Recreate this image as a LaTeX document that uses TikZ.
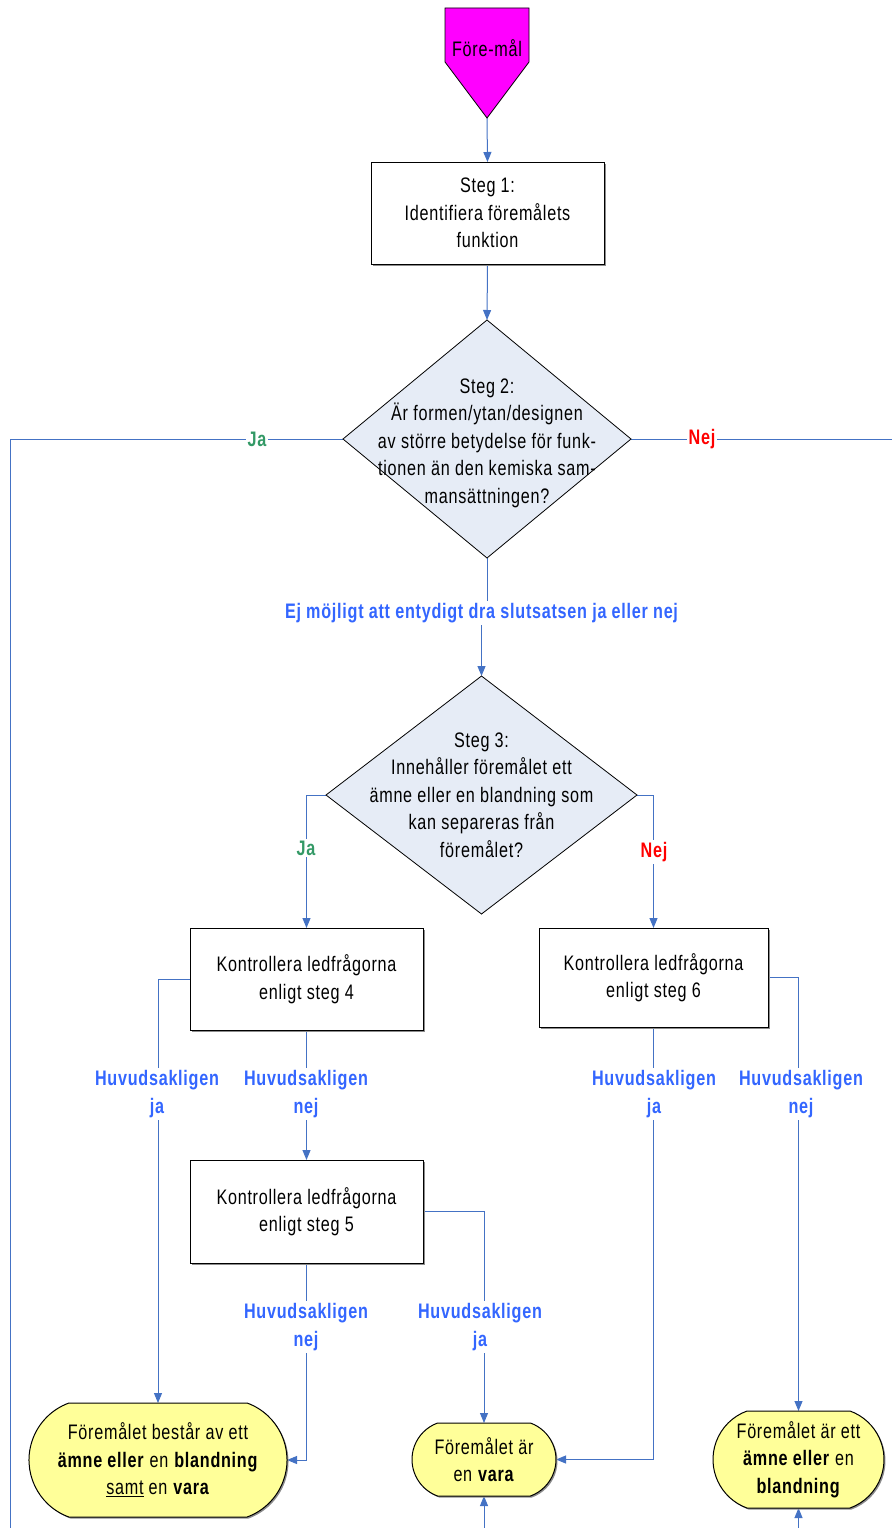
\documentclass[tikz,border=0pt]{standalone}
\usepackage{fontspec}
\setmainfont{Liberation Sans}[FakeStretch=0.77,LetterSpace=3.5]
\usetikzlibrary{arrows.meta,shapes.geometric,shapes.misc,backgrounds,shadows}
\definecolor{conn}{RGB}{68,114,196}
\definecolor{lblue}{RGB}{51,102,255}
\definecolor{lgreen}{RGB}{51,153,102}
\definecolor{lred}{RGB}{255,0,0}
\definecolor{diafill}{RGB}{230,236,246}
\definecolor{termfill}{RGB}{255,255,153}
\definecolor{pentfill}{RGB}{255,0,255}
\tikzset{
  txt/.style={font=\fontsize{21}{27.5}\selectfont, align=center, inner sep=0pt},
  stepbox/.style={txt, draw=black, fill=white, line width=1pt, outer sep=0pt,
    minimum width=233pt, minimum height=102pt,
    drop shadow={shadow xshift=1.5pt, shadow yshift=-1.5pt, fill=black!45, opacity=1}},
  dia/.style={diamond, draw=black, fill=diafill, line width=0.8pt, inner sep=0pt, outer sep=0pt},
  term/.style={txt, rounded rectangle, rounded rectangle arc length=140, draw=black, fill=termfill,
    line width=1pt, outer sep=0pt,
    drop shadow={shadow xshift=1.5pt, shadow yshift=-1.5pt, fill=black!45, opacity=1}},
  lbl/.style={font=\fontsize{21}{28}\selectfont\bfseries, text=lblue, fill=white, inner sep=2pt, align=center},
  conline/.style={draw=conn, line width=1pt},
  arr/.style={conline, -{Triangle[length=10pt,width=8pt]}},
}
\begin{document}
\begin{tikzpicture}[x=1pt,y=-1pt]
\useasboundingbox (0,0) rectangle (892,1528);
% Före-mål pentagon
\path[draw=black, fill=pentfill, line width=0.8pt] (445,8) -- (529,8) -- (529,62) -- (487,118) -- (445,62) -- cycle;
\node[txt] (fm) at (487,48) {Före-mål};
\coordinate (fmtip) at (487,118);
% Step 1
\node[stepbox] (s1) at (487.5,213) {Steg 1:\\Identifiera föremålets\\funktion};
% Diamond 2
\node[dia, minimum width=288pt, minimum height=238pt] (d2) at (487,439) {};
\node[txt] (d2t) at (487,443) {Steg 2:\\Är formen/ytan/designen\\av större betydelse för funk-\\tionen än den kemiska sam-\\mansättningen?};
\node[lbl, text=lgreen] (ja2) at (257,439) {Ja};
\node[lbl, text=lred] (nej2) at (702,439) {Nej};
\coordinate (leftend) at (10,1528);
\coordinate (rightend) at (892,439);
\node[lbl] (ej) at (481.5,613) {Ej möjligt att entydigt dra slutsatsen ja eller nej};
% Diamond 3
\node[dia, minimum width=311pt, minimum height=238pt] (d3) at (481.5,795) {};
\node[txt] (d3t) at (481.5,795) {Steg 3:\\Innehåller föremålet ett\\ämne eller en blandning som\\kan separeras från\\föremålet?};
\node[lbl, text=lgreen] (ja3) at (306,848) {Ja};
\node[lbl, text=lred] (nej3) at (654,852) {Nej};
% Boxes 4, 6, 5
\node[stepbox] (b4) at (306.5,979) {Kontrollera ledfrågorna\\enligt steg 4};
\node[stepbox, minimum width=229pt, minimum height=99pt] (b6) at (653.5,977.5) {Kontrollera ledfrågorna\\enligt steg 6};
\node[stepbox, minimum height=103pt] (b5) at (306.5,1211.5) {Kontrollera ledfrågorna\\enligt steg 5};
% Labels
\node[lbl] (h4ja) at (157,1094) {Huvudsakligen\\ja};
\node[lbl] (h4nej) at (306,1094) {Huvudsakligen\\nej};
\node[lbl] (h6ja) at (654,1094) {Huvudsakligen\\ja};
\node[lbl] (h6nej) at (801,1094) {Huvudsakligen\\nej};
\node[lbl] (h5nej) at (306,1327) {Huvudsakligen\\nej};
\node[lbl] (h5ja) at (480,1327) {Huvudsakligen\\ja};
% Terminals
\node[term, minimum width=258pt, minimum height=114pt] (t1) at (158,1460) {Föremålet består av ett\\\textbf{ämne eller} en \textbf{blandning}\\\underline{samt} en \textbf{vara}};
\node[term, minimum width=144pt, minimum height=73pt] (t2) at (484,1459.5) {Föremålet är\\en \textbf{vara}};
\node[term, minimum width=171pt, minimum height=97pt] (t3) at (798.5,1459.5) {Föremålet är ett\\\textbf{ämne eller} en\\\textbf{blandning}};
\coordinate (t2bot) at (484,1528);
\coordinate (t3bot) at (798.5,1528);
% Connectors
\begin{scope}[on background layer]
\draw[arr] (fmtip) -- (s1.north);
\draw[arr] (s1.south) -- (d2.north);
\draw[conline] (d2.west) -| (leftend);
\draw[conline] (d2.east) -- (rightend);
\draw[conline] (d2.south) -- (d2.south |- ej.north);
\draw[arr] (d3.north |- ej.south) -- (d3.north);
\draw[arr] (d3.west) -| (b4.north);
\draw[arr] (d3.east) -| (b6.north);
\draw[arr] (b4.west) -| (t1.north);
\draw[arr] (b4.south) -- (b5.north);
\draw[arr] (b5.east) -| (t2.north);
\draw[arr] (b5.south) |- (t1.east);
\draw[arr] (b6.south) |- (t2.east);
\draw[arr] (b6.east) -| (t3.north);
\draw[arr] (t2bot) -- (t2.south);
\draw[arr] (t3bot) -- (t3.south);
\end{scope}
\end{tikzpicture}
\end{document}
